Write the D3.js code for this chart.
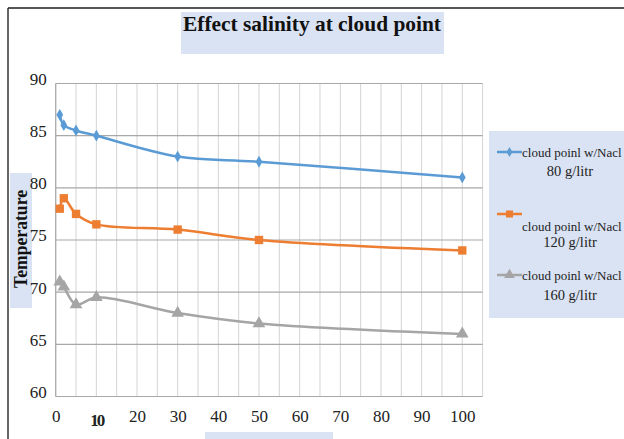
<!DOCTYPE html>
<html>
<head>
<meta charset="utf-8">
<script src="https://cdn.jsdelivr.net/npm/d3@7"></script>
<style>
  html, body { margin: 0; padding: 0; background: #fff; }
  svg { display: block; }
  svg text { font-family: "Liberation Serif", "Times New Roman", serif !important; }
</style>
</head>
<body>
<svg id="chart" width="624" height="439"></svg>
<script>
// Salinity (g/litr of NaCl in water) on the x axis, cloud point temperature on y
const salinity = [1, 2, 5, 10, 30, 50, 100];
const cloud80  = [87, 86, 85.5, 85, 83, 82.5, 81];
const cloud120 = [78, 79, 77.5, 76.5, 76, 75, 74];
const cloud160 = [71, 70.5, 68.8, 69.5, 68, 67, 66];

const seriesNames = ["cloud poinl w/Nacl|80 g/litr",
                     "cloud poinl w/Nacl|120 g/litr",
                     "cloud poinl w/Nacl|160 g/litr"];
const seriesColors = ["#5b9bd5", "#ed7d31", "#a5a5a5"];
const seriesSymbols = [d3.symbolDiamond, d3.symbolSquare, d3.symbolTriangle];
const xTicks = [0, 10, 20, 30, 40, 50, 60, 70, 80, 90, 100];
const yTicks = [60, 65, 70, 75, 80, 85, 90];

const series = [cloud80, cloud120, cloud160].map((vals, i) => ({
  name: seriesNames[i],
  color: seriesColors[i],
  symbol: seriesSymbols[i],
  points: salinity.map((s, j) => ({ x: s, y: vals[j] }))
}));

const svg = d3.select("#chart");
const panel = "#dae3f3";
const serif = '"Liberation Serif", "Times New Roman", serif';

// outer frame
svg.append("line").attr("x1", 8).attr("x2", 624).attr("y1", 8).attr("y2", 8)
  .attr("stroke", "#555").attr("stroke-width", 2);
svg.append("line").attr("x1", 8).attr("x2", 8).attr("y1", 8).attr("y2", 439)
  .attr("stroke", "#333").attr("stroke-width", 1.5);

// title
svg.append("rect").attr("x", 181).attr("y", 12).attr("width", 263).attr("height", 42).attr("fill", panel);
svg.append("text").attr("x", 312).attr("y", 31).attr("text-anchor", "middle")
  .attr("font-size", 21).attr("font-weight", "bold").attr("fill", "#111")
  .attr("textLength", 258).attr("lengthAdjust", "spacingAndGlyphs")
  .text("Effect salinity at cloud point");

// y axis title panel (behind the tick labels)
svg.append("rect").attr("x", 10).attr("y", 173).attr("width", 22).attr("height", 135).attr("fill", panel);

// x axis title strip
svg.append("rect").attr("x", 205).attr("y", 432).attr("width", 128).attr("height", 10).attr("fill", panel);

// scales
const x = d3.scaleLinear().domain([0, 105]).range([55.7, 482.6]);
const y = d3.scaleLinear().domain([60, 90]).range([396.5, 83.5]);

// grid
const g = svg.append("g");
g.append("g").selectAll("line").data(d3.range(0, 106, 5)).join("line")
  .attr("x1", d => x(d)).attr("x2", d => x(d))
  .attr("y1", y(90)).attr("y2", y(60))
  .attr("stroke", "#d4d4d4").attr("stroke-width", 1);
g.append("g").selectAll("line").data(yTicks).join("line")
  .attr("x1", x(0)).attr("x2", x(105))
  .attr("y1", d => y(d)).attr("y2", d => y(d))
  .attr("stroke", "#a8a8a8").attr("stroke-width", 1.2);
g.append("line").attr("x1", x(0)).attr("x2", x(0)).attr("y1", y(90)).attr("y2", y(60))
  .attr("stroke", "#a8a8a8").attr("stroke-width", 1.2);

// axes
const yAxis = d3.axisLeft(y).tickValues(yTicks).tickSize(0).tickPadding(9).tickFormat(d3.format("d"));
svg.append("g").attr("transform", `translate(${x(0)},0)`).call(yAxis)
  .attr("font-family", serif)
  .call(a => a.select(".domain").remove())
  .call(a => a.selectAll("text").style("font-family", serif)
    .attr("font-size", 17).attr("fill", "#222").attr("dy", "0.05em"));

const xAxis = d3.axisBottom(x).tickValues(xTicks).tickSize(0).tickPadding(13).tickFormat(d3.format("d"));
svg.append("g").attr("transform", `translate(0,${y(60)})`).call(xAxis)
  .attr("font-family", serif)
  .call(a => a.select(".domain").remove())
  .call(a => a.selectAll("text").style("font-family", serif)
    .attr("font-size", 17).attr("fill", "#222")
    .filter(d => d === 10).attr("font-weight", "bold").attr("letter-spacing", -2)
    .attr("dy", "0.95em"));

// y axis title
svg.append("text").attr("transform", "translate(27,239) rotate(-90)")
  .attr("text-anchor", "middle").attr("font-size", 18).attr("font-weight", "bold").attr("fill", "#111")
  .attr("textLength", 98).attr("lengthAdjust", "spacingAndGlyphs")
  .text("Temperature");

// lines
const line = d3.line().x(d => x(d.x)).y(d => y(d.y)).curve(d3.curveCatmullRom.alpha(0.5));
const sg = svg.append("g").selectAll("g").data(series).join("g");
sg.append("path").attr("d", d => line(d.points)).attr("fill", "none")
  .attr("stroke", d => d.color).attr("stroke-width", 2.5);
sg.each(function (s) {
  d3.select(this).selectAll("path.m").data(s.points).join("path").attr("class", "m")
    .attr("transform", d => `translate(${x(d.x)},${y(d.y)})`)
    .attr("d", d3.symbol().type(s.symbol).size(s.symbol === d3.symbolDiamond ? 40 : 70))
    .attr("fill", s.color);
});

// legend
const lg = svg.append("g");
lg.append("rect").attr("x", 489).attr("y", 131).attr("width", 135).attr("height", 187).attr("fill", panel);
const legendY = [152, 214, 275];
const textY = [[157, 176], [231, 247], [280, 300]];
series.forEach((s, i) => {
  const yy = legendY[i];
  lg.append("line").attr("x1", 497).attr("x2", 522).attr("y1", yy).attr("y2", yy)
    .attr("stroke", s.color).attr("stroke-width", 2.5);
  lg.append("path").attr("transform", `translate(509.5,${yy})`)
    .attr("d", d3.symbol().type(s.symbol).size(s.symbol === d3.symbolDiamond ? 30 : 50))
    .attr("fill", s.color);
  const parts = s.name.split("|");
  lg.append("text").attr("x", 522).attr("y", textY[i][0]).attr("font-size", 13).attr("fill", "#222")
    .text(parts[0]);
  lg.append("text").attr("x", 570).attr("y", textY[i][1]).attr("font-size", 14.5).attr("fill", "#222")
    .attr("text-anchor", "middle").text(parts[1]);
});
</script>
</body>
</html>
